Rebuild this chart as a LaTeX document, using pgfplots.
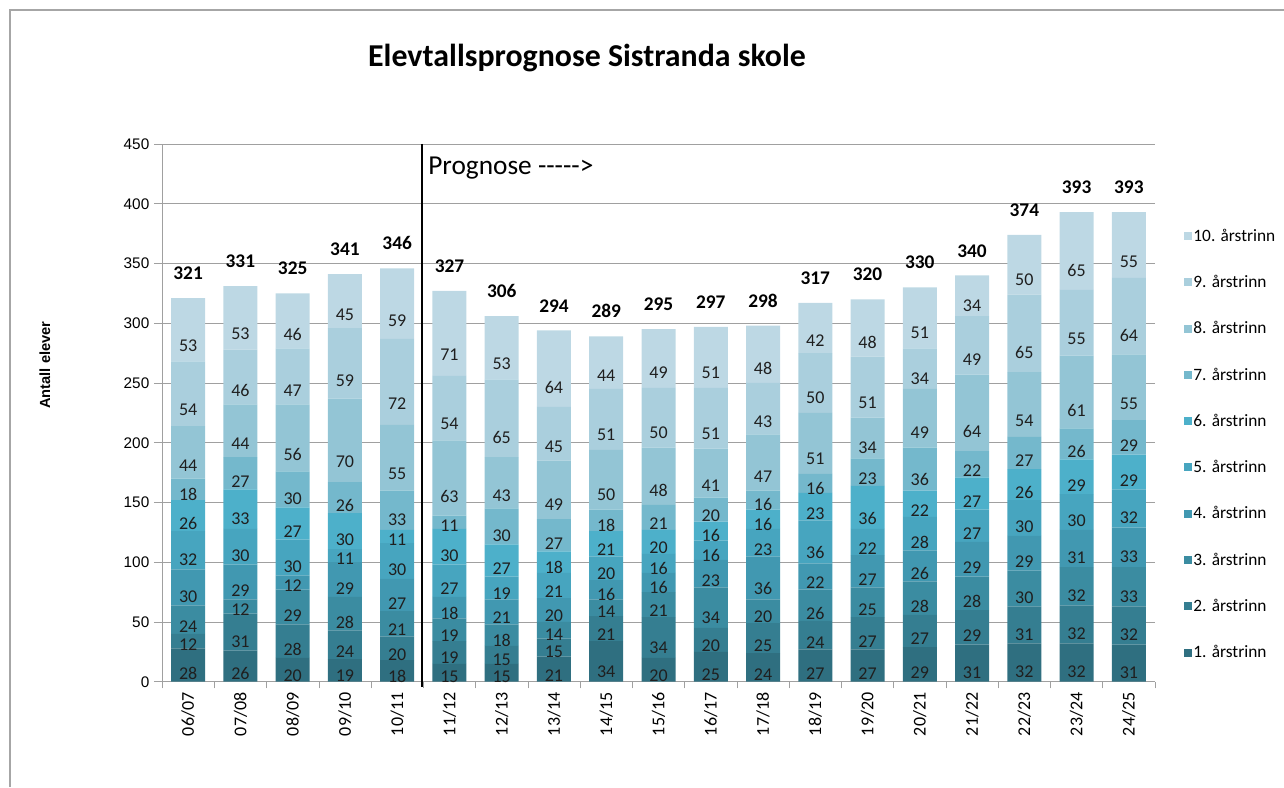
\documentclass[border=0pt]{standalone}
\usepackage{fontspec}
\setmainfont{Carlito}
\newfontfamily\arial{Liberation Sans}
\usepackage{pgfplots}
\usepackage{pgfplotstable}
\pgfplotsset{compat=1.18}

\definecolor{c1}{RGB}{47,111,128}
\definecolor{c2}{RGB}{53,126,145}
\definecolor{c3}{RGB}{59,140,161}
\definecolor{c4}{RGB}{65,152,177}
\definecolor{c5}{RGB}{71,165,191}
\definecolor{c6}{RGB}{77,176,202}
\definecolor{c7}{RGB}{116,184,204}
\definecolor{c8}{RGB}{147,197,213}
\definecolor{c9}{RGB}{170,207,221}
\definecolor{c10}{RGB}{189,216,228}
\definecolor{gridgray}{RGB}{160,160,160}

\pgfplotstableread{
x a b c d e f g h i j t
0 28 12 24 30 32 26 18 44 54 53 321
1 26 31 12 29 30 33 27 44 46 53 331
2 20 28 29 12 30 27 30 56 47 46 325
3 19 24 28 29 11 30 26 70 59 45 341
4 18 20 21 27 30 11 33 55 72 59 346
5 15 19 19 18 27 30 11 63 54 71 327
6 15 15 18 21 19 27 30 43 65 53 306
7 21 15 14 20 21 18 27 49 45 64 294
8 34 21 14 16 20 21 18 50 51 44 289
9 20 34 21 16 16 20 21 48 50 49 295
10 25 20 34 23 16 16 20 41 51 51 297
11 24 25 20 36 23 16 16 47 43 48 298
12 27 24 26 22 36 23 16 51 50 42 317
13 27 27 25 27 22 36 23 34 51 48 320
14 29 27 28 26 28 22 36 49 34 51 330
15 31 29 28 29 27 27 22 64 49 34 340
16 32 31 30 29 30 26 27 54 65 50 374
17 32 32 32 31 30 29 26 61 55 65 393
18 31 32 33 33 32 29 29 55 64 55 393
}\data

\pgfplotsset{
  seg/.style={draw=none,
    visualization depends on={\thisrow{#1} \as \rawy},
    nodes near coords={\fontsize{13.5}{14}\selectfont\color{black!88}\pgfmathprintnumber{\rawy}}},
}

\begin{document}
\begin{tikzpicture}
\useasboundingbox (-121.5pt,-79pt) rectangle (841.5pt,511.3pt);
\draw[gray!70, line width=0.8pt] (-114pt,-79pt) -- (-114pt,503.8pt) -- (841.5pt,503.8pt);
\begin{axis}[
  at={(0,0)}, anchor=south west,
  scale only axis, width=744.75pt, height=403.3pt,
  ybar stacked, bar width=25.5pt,
  xmin=-0.5, xmax=18.5, ymin=0, ymax=450,
  ytick={0,50,...,450},
  xtick={0,...,18},
  xticklabels={06/07,07/08,08/09,09/10,10/11,11/12,12/13,13/14,14/15,15/16,16/17,17/18,18/19,19/20,20/21,21/22,22/23,23/24,24/25},
  x tick label style={rotate=90, anchor=east, font=\fontsize{13.5}{14}\selectfont, inner sep=2pt},
  y tick label style={font=\arial\fontsize{11.5}{12}\selectfont},
  /pgf/number format/assume math mode=true,
  every node near coord/.style={anchor=center, inner sep=0pt, yshift=-0.224055pt*\rawy},
  major x tick style={draw=none},
  minor xtick={-0.5,0.5,...,18.5},
  minor tick length=5pt, major tick length=6pt,
  tick align=outside,
  xtick pos=bottom, ytick pos=left,
  axis x line*=bottom, axis y line*=left,
  axis line style={gridgray},
  every tick/.style={gridgray},
  ymajorgrids, grid style={gridgray, line width=0.6pt},
  reverse legend,
  legend cell align=left,
  legend style={draw=none, fill=none, at={(1.025,0.85)}, anchor=north west,
    font=\fontsize{13}{14}\selectfont, row sep=22pt,
    nodes={inner sep=1pt}},
  legend image code/.code={\fill[#1,draw=none] (0pt,-3pt) rectangle (6pt,3pt);},
  clip=false,
]
\addplot[fill=c1, seg=a] table[x=x,y=a]{\data};
\addplot[fill=c2, seg=b] table[x=x,y=b]{\data};
\addplot[fill=c3, seg=c] table[x=x,y=c]{\data};
\addplot[fill=c4, seg=d] table[x=x,y=d]{\data};
\addplot[fill=c5, seg=e] table[x=x,y=e]{\data};
\addplot[fill=c6, seg=f] table[x=x,y=f]{\data};
\addplot[fill=c7, seg=g] table[x=x,y=g]{\data};
\addplot[fill=c8, seg=h] table[x=x,y=h]{\data};
\addplot[fill=c9, seg=i] table[x=x,y=i]{\data};
\addplot[fill=c10, seg=j] table[x=x,y=j]{\data};
\legend{1. årstrinn,2. årstrinn,3. årstrinn,4. årstrinn,5. årstrinn,6. årstrinn,7. årstrinn,8. årstrinn,9. årstrinn,10. årstrinn}
\draw[black, line width=1.2pt] (axis cs:4.47,450) -- (axis cs:4.47,-4);
\node[anchor=west, inner sep=0pt, font=\fontsize{20.5}{22}\selectfont] at (axis cs:4.59,430) {Prognose -{}-{}-{}-{}->};
\end{axis}
\begin{axis}[
  at={(0,0)}, anchor=south west,
  scale only axis, width=744.75pt, height=403.3pt,
  xmin=-0.5, xmax=18.5, ymin=0, ymax=450,
  hide axis, clip=false,
  /pgf/number format/assume math mode=true,
]
\addplot[only marks, mark=none, point meta=y,
  nodes near coords={\pgfmathprintnumber{\pgfplotspointmeta}},
  every node near coord/.style={anchor=south, inner sep=0pt, yshift=13.5pt,
    font=\bfseries\fontsize{14.5}{15}\selectfont, text=black}]
  table[x=x,y=t]{\data};
\end{axis}
\node[font=\bfseries\fontsize{23.9}{26}\selectfont] at (318.75pt,467.8pt) {Elevtallsprognose Sistranda skole};
\node[rotate=90, font=\arial\bfseries\fontsize{11}{12}\selectfont] at (-87.75pt,237.5pt) {Antall elever};
\end{tikzpicture}
\end{document}
